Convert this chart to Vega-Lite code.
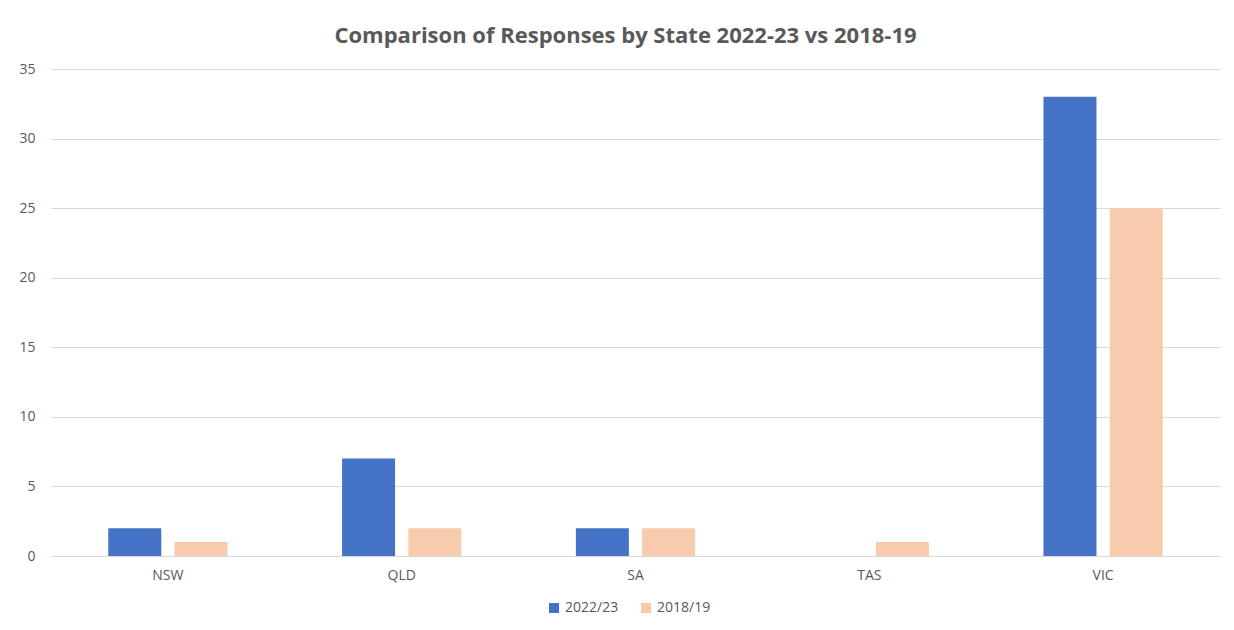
{
  "$schema": "https://vega.github.io/schema/vega-lite/v6.json",
  "width": 1169,
  "height": 487,
  "autosize": {"type": "none"},
  "padding": {"left": 51, "top": 69, "right": 14, "bottom": 74},
  "background": "white",
  "title": {
    "text": "Comparison of Responses by State 2022-23 vs 2018-19",
    "font": "Open Sans",
    "fontSize": 22,
    "fontWeight": "bold",
    "color": "#595959",
    "anchor": "middle",
    "dx": -10,
    "offset": 14
  },
  "data": {
    "values": [
      {"state": "NSW", "period": "2022/23", "responses": 2},
      {"state": "NSW", "period": "2018/19", "responses": 1},
      {"state": "QLD", "period": "2022/23", "responses": 7},
      {"state": "QLD", "period": "2018/19", "responses": 2},
      {"state": "SA", "period": "2022/23", "responses": 2},
      {"state": "SA", "period": "2018/19", "responses": 2},
      {"state": "TAS", "period": "2022/23", "responses": 0},
      {"state": "TAS", "period": "2018/19", "responses": 1},
      {"state": "VIC", "period": "2022/23", "responses": 33},
      {"state": "VIC", "period": "2018/19", "responses": 25}
    ]
  },
  "mark": {"type": "bar"},
  "encoding": {
    "x": {
      "field": "state",
      "type": "nominal",
      "title": null,
      "scale": {"paddingInner": 0.49, "paddingOuter": 0.245},
      "axis": {
        "labelAngle": 0,
        "ticks": false,
        "domain": false,
        "labelPadding": 12,
        "labelFont": "Open Sans",
        "labelFontSize": 14,
        "labelColor": "#595959"
      }
    },
    "xOffset": {
      "field": "period",
      "type": "nominal",
      "sort": ["2022/23", "2018/19"],
      "scale": {"paddingInner": 0.2, "paddingOuter": 0}
    },
    "y": {
      "field": "responses",
      "type": "quantitative",
      "title": null,
      "scale": {"domain": [0, 35]},
      "axis": {
        "values": [0, 5, 10, 15, 20, 25, 30, 35],
        "ticks": false,
        "domain": false,
        "gridColor": "#d9d9d9",
        "gridWidth": 1.2,
        "labelPadding": 16,
        "labelFont": "Open Sans",
        "labelFontSize": 14,
        "labelColor": "#595959"
      }
    },
    "color": {
      "field": "period",
      "type": "nominal",
      "sort": ["2022/23", "2018/19"],
      "scale": {"domain": ["2022/23", "2018/19"], "range": ["#4472C4", "#F8CBAD"]},
      "legend": {
        "title": null,
        "orient": "none",
        "legendX": 496,
        "legendY": 532,
        "direction": "horizontal",
        "symbolType": "square",
        "symbolSize": 100,
        "symbolOpacity": 1,
        "labelFont": "Open Sans",
        "labelFontSize": 14,
        "labelColor": "#595959",
        "columnPadding": 20
      }
    }
  },
  "config": {
    "view": {"stroke": null}
  }
}
